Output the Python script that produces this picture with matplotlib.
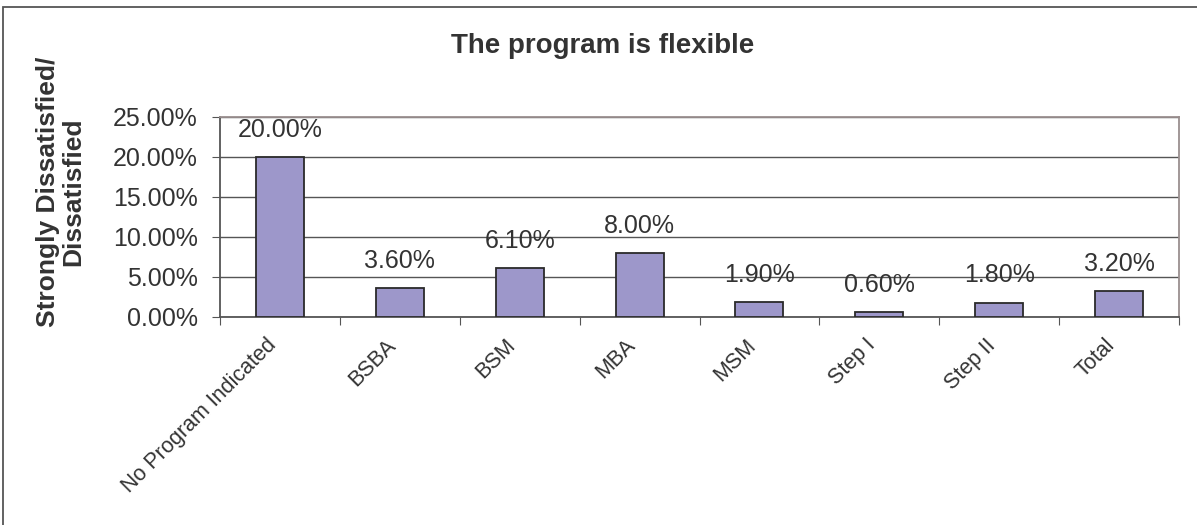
import numpy as np
import matplotlib.pyplot as plt
import matplotlib.transforms as mtransforms
from matplotlib.patches import Rectangle

# Donnees
categories = ['No Program Indicated', 'BSBA', 'BSM', 'MBA', 'MSM', 'Step I', 'Step II', 'Total']
valeurs = [20.0, 3.6, 6.1, 8.0, 1.9, 0.6, 1.8, 3.2]
yticks = [0, 5, 10, 15, 20, 25]

plt.rcParams['font.family'] = ['Liberation Sans', 'DejaVu Sans']

W, H = 1197, 525
fig = plt.figure(figsize=(W / 100, H / 100), dpi=100)
ax = fig.add_axes([220 / W, 1 - 317 / H, (1179 - 220) / W, (317 - 117) / H])

x = np.arange(len(categories))
ax.bar(x, valeurs, width=0.4, color='#9D97CA', edgecolor='#2a2a2a', linewidth=1.3, zorder=3)

for xi, v in zip(x, valeurs):
    ax.annotate('%.2f%%' % v, (xi, v), xytext=(0, 11), textcoords='offset points',
                ha='center', va='bottom', fontsize=18, color='#333333', zorder=4)

ax.set_xlim(-0.5, len(categories) - 0.5)
ax.set_ylim(0, 25)
ax.set_yticks(yticks)
ax.set_yticklabels(['%.2f%%' % t for t in yticks], fontsize=18, color='#333333')
ax.yaxis.grid(True, color='#555555', linewidth=1.0, zorder=0)

# graduations entre les categories, etiquettes au centre
ax.set_xticks(np.arange(len(categories) + 1) - 0.5)
ax.set_xticklabels([])
ax.tick_params(axis='x', length=6, direction='out', color='#555555')
ax.tick_params(axis='y', length=6, direction='out', color='#555555', pad=10)
ax.set_xticks(x, minor=True)
ax.set_xticklabels(categories, minor=True, rotation=45, ha='right', va='center',
                   rotation_mode='anchor', fontsize=15.5, color='#333333')
ax.tick_params(axis='x', which='minor', length=0, pad=16)
decal = mtransforms.ScaledTranslation(-7 / 100, -3 / 100, fig.dpi_scale_trans)
for lab in ax.get_xticklabels(minor=True):
    lab.set_transform(lab.get_transform() + decal)

for s in ['left', 'bottom']:
    ax.spines[s].set_color('#555555')
    ax.spines[s].set_linewidth(1.3)
for s in ['top', 'right']:
    ax.spines[s].set_color('#9a8f8f')
    ax.spines[s].set_linewidth(1.3)

ax.set_ylabel('Strongly Dissatisfied/\nDissatisfied', fontsize=19, fontweight='bold',
              color='#333333', linespacing=1.05)
ax.yaxis.set_label_coords((85 - 220) / 959, (317 - 192) / 200)
fig.text(603 / W, 1 - 53 / H, 'The program is flexible', ha='center', va='baseline',
         fontsize=20, fontweight='bold', color='#333333')

# Cadre exterieur
fig.patches.append(Rectangle((3 / W, -0.05), 1.1, 1 - 7 / H + 0.05, transform=fig.transFigure,
                             fill=False, edgecolor='#555555', linewidth=1.3))

fig.savefig('out.png', dpi=100)
